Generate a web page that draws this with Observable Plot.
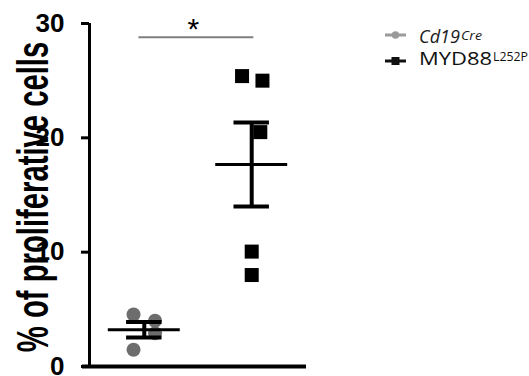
<!DOCTYPE html>
<html><head><meta charset="utf-8">
<script src="https://cdn.jsdelivr.net/npm/d3@7"></script>
<script src="https://cdn.jsdelivr.net/npm/@observablehq/plot@0.6"></script>
<style>
body{margin:0;background:#fff;}
#wrap{position:relative;width:529px;height:376px;overflow:hidden;}
#legend{position:absolute;left:0;top:0;pointer-events:none;}
</style></head><body><div id="wrap"></div>
<script>
// ---- data ----
const groups = ["Cd19Cre", "MYD88L252P"];
const groupX = [1, 2];
const cd19Values = [4.55, 4.0, 2.9, 1.46];
const cd19Jitter = [-0.1, 0.1, 0.1, -0.1];
const mydValues = [25.4, 25.0, 20.5, 10.05, 8.0];
const mydJitter = [-0.09, 0.1, 0.08, 0.0, 0.0];
const means = [3.22, 17.67];
const sems = [0.68, 3.67];
const yTicks = [0, 10, 20, 30];
const yLabel = "% of proliferative cells";
const sigX = [0.95, 2.02];
const sigY = 28.8;
const sigLabel = "*";
const legendMain = ["Cd19", "MYD88"];
const legendSup = ["Cre", "L252P"];

const xDomain = [0.49, 2.51];
const stats = groups.map((g, i) => ({group: g, x: groupX[i], mean: means[i], sem: sems[i]}));

const plot = Plot.plot({
  width: 529, height: 376,
  marginLeft: 89, marginRight: 223, marginTop: 23, marginBottom: 10,
  x: {domain: xDomain, axis: null},
  y: {domain: [0, 30], axis: null},
  style: {fontFamily: "'Liberation Sans', Arial, sans-serif", background: "white", color: "black", overflow: "visible"},
  marks: [
    Plot.text([yLabel], {frameAnchor: "left", textAnchor: "middle", rotate: -90, dx: -42, dy: 2, lineAnchor: "bottom", fontSize: 45, fontWeight: "bold", fill: "black", text: d => d}),
    Plot.dot(cd19Values, {x: (d, i) => groupX[0] + cd19Jitter[i], y: d => d, r: 7, fill: "#6d6d6d"}),
    Plot.dot(mydValues, {x: (d, i) => groupX[1] + mydJitter[i], y: d => d, symbol: "square", r: 7.9, fill: "#000"}),
    Plot.ruleY(stats, {y: "mean", x1: d => d.x - 0.335, x2: d => d.x + 0.335, strokeWidth: 3, stroke: "#000"}),
    Plot.ruleY(stats, {y: d => d.mean + d.sem, x1: d => d.x - 0.165, x2: d => d.x + 0.165, strokeWidth: 4, stroke: "#000"}),
    Plot.ruleY(stats, {y: d => d.mean - d.sem, x1: d => d.x - 0.165, x2: d => d.x + 0.165, strokeWidth: 4, stroke: "#000"}),
    Plot.ruleX(stats, {x: "x", y1: d => d.mean - d.sem, y2: d => d.mean + d.sem, strokeWidth: 4, stroke: "#000"}),
    Plot.ruleY([sigY], {x1: sigX[0], x2: sigX[1], stroke: "#7f7f7f", strokeWidth: 2}),
    Plot.text([sigLabel], {x: (sigX[0] + sigX[1]) / 2, y: sigY, text: d => d, fontSize: 30, lineAnchor: "bottom", dy: 2, dx: -3}),
    Plot.axisY({ticks: yTicks, tickSize: 8, tickPadding: 17, fontSize: 26, fontWeight: "bold", strokeWidth: 3, label: null, tickFormat: d => String(d)}),
    Plot.ruleX([xDomain[0]], {strokeWidth: 3, stroke: "#000"}),
    Plot.ruleY([0], {x1: xDomain[0] - 0.065, x2: xDomain[1], strokeWidth: 4, stroke: "#000"})
  ]
});

// squeeze the rotated y label along its reading direction, as in the reference
plot.querySelectorAll("text").forEach(t => {
  if (t.textContent === yLabel) {
    const tr = t.getAttribute("transform") || "";
    t.setAttribute("transform", tr + " scale(0.65,1)");
  }
});

const wrap = document.getElementById("wrap");
wrap.appendChild(plot);

// ---- legend (overlay) ----
const lg = d3.create("svg").attr("id", "legend").attr("width", 529).attr("height", 376)
  .style("font-family", "'Open Sans', sans-serif");
const rows = [
  {y: 35, base: 43, supBase: 40, stroke: "#9a9a9a", symbol: "circle", italic: true, mainLen: 41, supX: 461, supLen: 21, mainSize: 18, supSize: 13, color: "#1a1a1a"},
  {y: 61, base: 65, supBase: 61, stroke: "#111", symbol: "square", italic: false, mainLen: 73, supX: 493, supLen: 35, mainSize: 18.5, supSize: 13.5, color: "#111"}
];
rows.forEach((r, i) => {
  lg.append("line").attr("x1", 385).attr("x2", 406).attr("y1", r.y).attr("y2", r.y)
    .attr("stroke", r.stroke).attr("stroke-width", 3);
  if (r.symbol === "circle") {
    lg.append("circle").attr("cx", 395.5).attr("cy", r.y).attr("r", 3.8).attr("fill", r.stroke);
  } else {
    lg.append("rect").attr("x", 391.5).attr("y", r.y - 4).attr("width", 8).attr("height", 8).attr("fill", r.stroke);
  }
  lg.append("text").attr("x", 419).attr("y", r.base).attr("font-size", r.mainSize)
    .attr("font-style", r.italic ? "italic" : "normal").attr("fill", r.color)
    .attr("textLength", r.mainLen).attr("lengthAdjust", "spacingAndGlyphs").text(legendMain[i]);
  lg.append("text").attr("x", r.supX).attr("y", r.supBase).attr("font-size", r.supSize)
    .attr("font-style", r.italic ? "italic" : "normal").attr("fill", r.color)
    .attr("textLength", r.supLen).attr("lengthAdjust", "spacingAndGlyphs").text(legendSup[i]);
});
wrap.appendChild(lg.node());
</script>
</body></html>
